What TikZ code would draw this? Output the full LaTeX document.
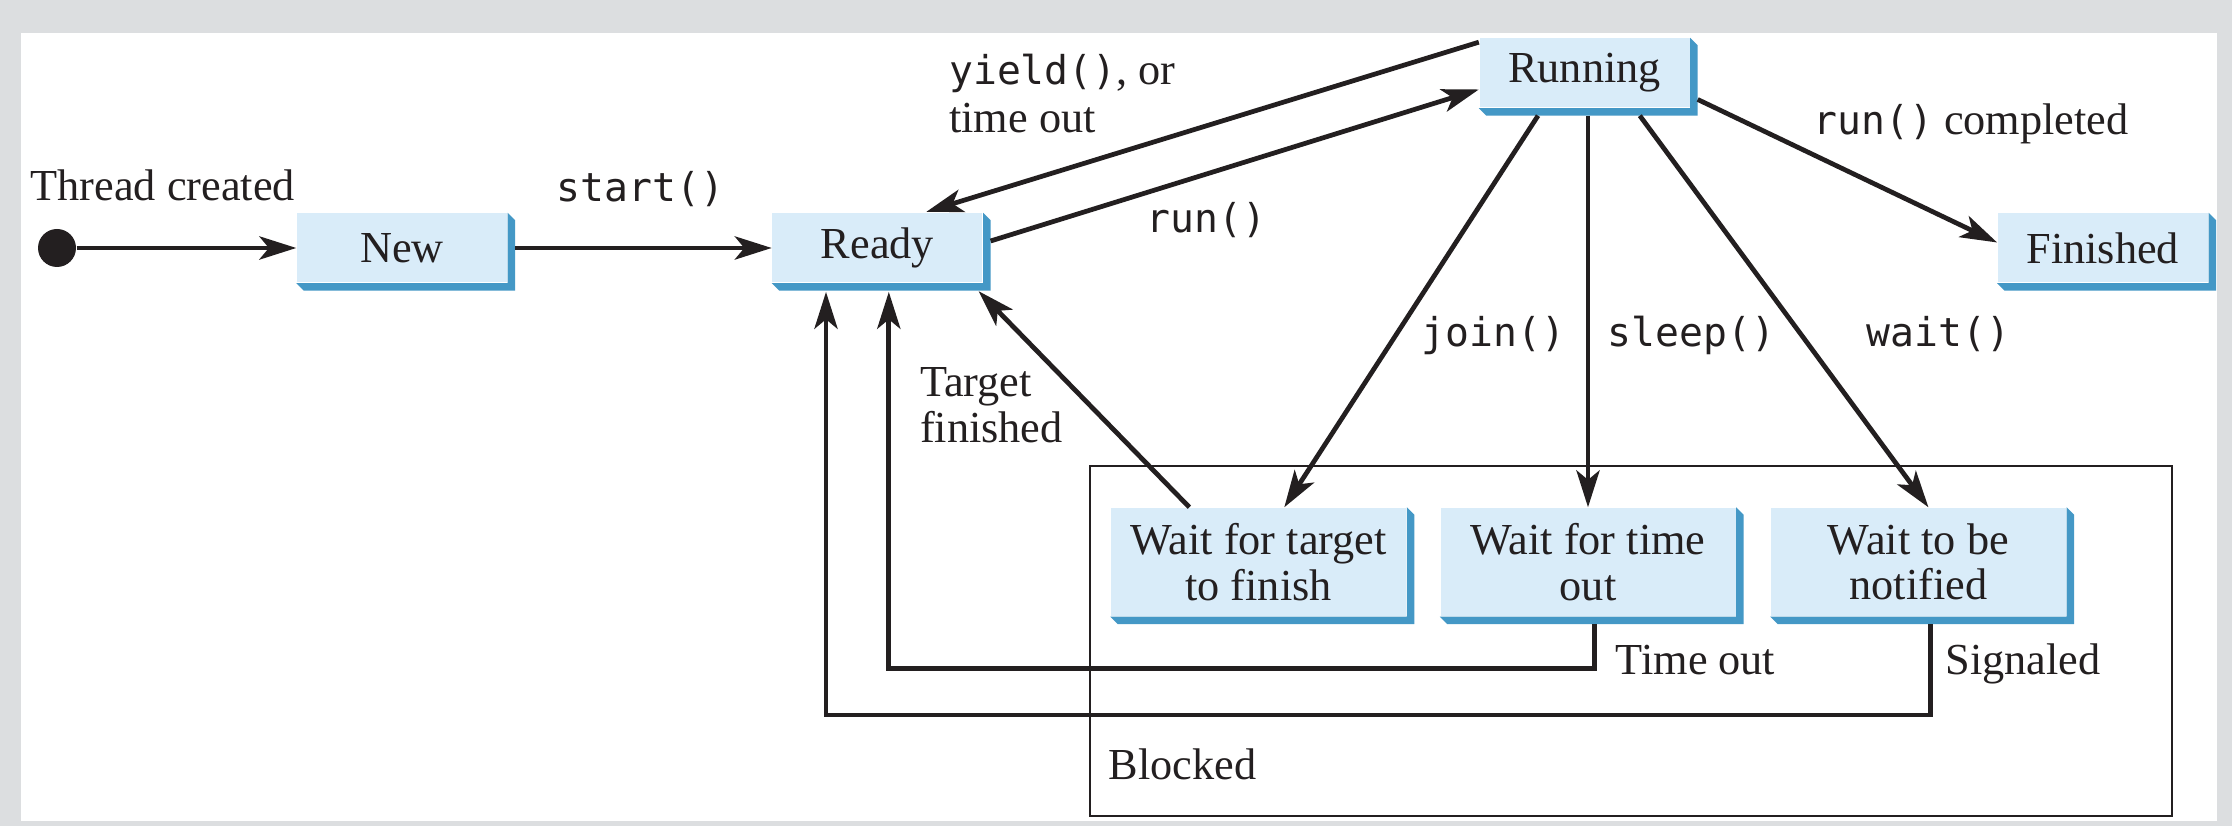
\documentclass[tikz,border=0pt]{standalone}
\usepackage{fontspec}
\setmainfont{Liberation Serif}
\setmonofont{DejaVu Sans Mono}
\usepackage{tikz}
\usetikzlibrary{arrows.meta, positioning}

\definecolor{bggray}{RGB}{220,222,224}
\definecolor{boxface}{RGB}{217,236,249}
\definecolor{boxshade}{RGB}{68,152,198}
\definecolor{ink}{RGB}{35,31,32}
\newcommand{\mcode}[1]{{\fontsize{11.3}{13}\selectfont\ttfamily #1}}

\begin{document}
\begin{tikzpicture}[font=\fontsize{12.6}{13}\selectfont, >={Stealth[length=10.5pt, width=6.6pt, inset=2.7pt]},
	state/.style={fill=boxface, text=ink, inner sep=0pt, minimum width=2.1cm, minimum height=0.69cm, align=center},
	waitstate/.style={state, minimum width=2.95cm, minimum height=1.08cm},
	lbl/.style={text=ink, inner sep=0pt, anchor=base west},
	conn/.style={draw=ink, line width=1.35pt, ->}]
		
		% Background
		\fill[bggray] (0,0) rectangle (22.32,8.26);
		\fill[white] (0.21,0.05) rectangle (22.17,7.93);
		\draw[ink, line width=0.65pt] (10.90,0.103) rectangle (21.72,3.603);
		
		% States
		\node[circle, fill=ink, inner sep=0pt, minimum size=0.38cm] (start) at (0.57,5.78) {};
		\node[state] (new) at (4.02,5.78) {New};
		\node[state] (ready) [right=2.64cm of new] {Ready};
		\node[state] (finished) [right=10.14cm of ready] {Finished};
		\node[state] (running) at (15.845,7.53) {Running};
		\node[waitstate] (waittime) at (15.88,2.64) {Wait for time\\out};
		\node[waitstate] (waittarget) [left=0.33cm of waittime] {Wait for target\\to finish};
		\node[waitstate] (waitnotify) [right=0.34cm of waittime] {Wait to be\\notified};
		
		% Shadows
		\foreach \n in {new,ready,running,finished,waittarget,waittime,waitnotify}
			\fill[boxshade] (\n.south west) -- ++(0.075,-0.075) -- ([shift={(0.075,-0.075)}]\n.south east)
				-- ([shift={(0.075,-0.075)}]\n.north east) -- (\n.north east) -- (\n.south east) -- cycle;
		
		% Labels
		\node[lbl] (created) at (0.30,6.25) {Thread created};
		\node[lbl] (startlbl) at (5.56,6.24) {\mcode{start()}};
		\node[lbl] (yieldlbl) at (9.485,7.41) {\mcode{yield()}, or};
		\node[lbl] (yieldlbl2) at (9.485,6.93) {time out};
		\node[lbl] (runlbl) at (11.46,5.93) {\mcode{run()}};
		\node[lbl] (donelbl) at (18.127,6.91) {\mcode{run()} completed};
		\node[lbl] (joinlbl) at (14.21,4.79) {\mcode{join()}};
		\node[lbl] (sleeplbl) at (16.07,4.79) {\mcode{sleep()}};
		\node[lbl] (waitlbl) at (18.66,4.79) {\mcode{wait()}};
		\node[lbl] (targetlbl) at (9.194,4.29) {Target};
		\node[lbl] (targetlbl2) at (9.194,3.83) {finished};
		\node[lbl] (timeoutlbl) at (16.15,1.51) {Time out};
		\node[lbl] (signallbl) at (19.45,1.51) {Signaled};
		\node[lbl] (blockedlbl) at (11.08,0.46) {Blocked};
		
		\coordinate (tobend) at (8.888,1.577);
		\coordinate (sigbend) at (8.26,1.11);
		
		% Edges
		\draw[conn] (start) -- (new);
		\draw[conn] ([xshift=0.075cm]new.east) -- (ready.west);
		\draw[conn] ([yshift=-0.044cm]running.north west) -- ([xshift=0.49cm,yshift=0.01cm]ready.north);
		\draw[conn] ([xshift=0.075cm,yshift=0.07cm]ready.east) -- ([yshift=-0.165cm]running.west);
		\draw[conn] ([xshift=0.075cm,yshift=-0.265cm]running.east) -- ([yshift=0.055cm]finished.west);
		\draw[conn] ([xshift=-0.465cm,yshift=-0.075cm]running.south) -- ([xshift=0.257cm]waittarget.north);
		\draw[conn] ([yshift=-0.075cm]running.south -| waittime.north) -- (waittime.north);
		\draw[conn] ([xshift=0.553cm,yshift=-0.075cm]running.south) -- ([xshift=0.10cm]waitnotify.north);
		\draw[conn] ([xshift=-0.692cm]waittarget.north) -- ([xshift=-0.045cm,yshift=-0.08cm]ready.south east);
		\draw[conn] ([xshift=0.067cm,yshift=-0.075cm]waittime.south) |- (tobend) -- ([yshift=-0.087cm]ready.south -| tobend);
		\draw[conn] ([xshift=0.118cm,yshift=-0.075cm]waitnotify.south) |- (sigbend) -- ([yshift=-0.087cm]ready.south -| sigbend);
		
	\end{tikzpicture}
\end{document}
